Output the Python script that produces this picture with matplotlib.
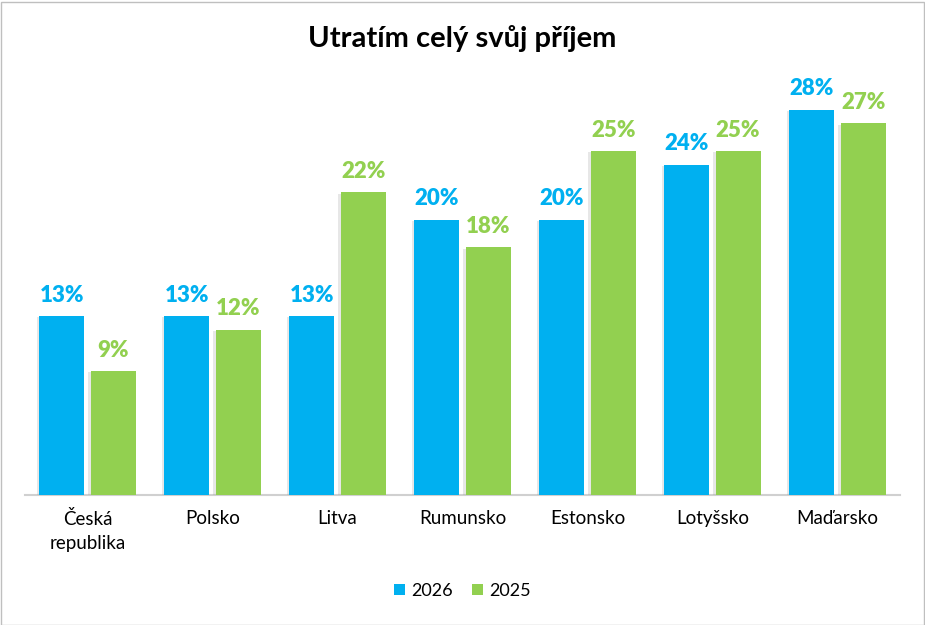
import matplotlib.pyplot as plt
import matplotlib.patheffects as pe
from matplotlib.patches import Rectangle, Patch
import numpy as np

plt.rcParams['font.family'] = ['Lato', 'DejaVu Sans']

countries = ['Česká\nrepublika', 'Polsko', 'Litva', 'Rumunsko', 'Estonsko', 'Lotyšsko', 'Maďarsko']
vals_2026 = [13, 13, 13, 20, 20, 24, 28]
vals_2025 = [9, 12, 22, 18, 25, 25, 27]
series_names = ['2026', '2025']
colors = ['#00B0F0', '#92D050']

fig = plt.figure(figsize=(9.25, 6.25), dpi=100)
ax = fig.add_axes([25 / 925, 130 / 625, 875 / 925, 413 / 625])

x = np.arange(len(countries))
w = 0.36
shadow = [pe.SimplePatchShadow(offset=(-2, -1), shadow_rgbFace='#a0a0a0', alpha=0.25), pe.Normal()]

for i, (vals, name, col) in enumerate(zip([vals_2026, vals_2025], series_names, colors)):
    pos = x + (i - 0.5) * 0.41
    bars = ax.bar(pos, vals, width=w, color=col, zorder=3)
    for b in bars:
        b.set_path_effects(shadow)
    for p, v in zip(pos, vals):
        ax.text(p, v + 0.75, f'{v}%', ha='center', va='bottom', color=col,
                fontsize=16, fontweight='heavy', zorder=4)

ax.set_xlim(-0.5, len(countries) - 0.5)
ax.set_ylim(0, 30)
ax.set_yticks([])
ax.set_xticks(x)
ax.set_xticklabels(countries, fontsize=13.5, linespacing=1.45)
ax.tick_params(axis='x', length=0, pad=11)
for s in ['top', 'right', 'left']:
    ax.spines[s].set_visible(False)
ax.spines['bottom'].set_color('#d0d0d0')
ax.spines['bottom'].set_linewidth(1.5)

fig.text(0.5, 1 - 38 / 625, 'Utratím celý svůj příjem', ha='center', va='center',
         fontsize=21, fontweight='bold')

handles = [Patch(facecolor=c, label=n) for c, n in zip(colors, series_names)]
fig.legend(handles=handles, loc='center', bbox_to_anchor=(0.5, 1 - 591 / 625), ncol=2, frameon=False,
           fontsize=13, handlelength=0.6, handleheight=0.6, handletextpad=0.35, columnspacing=1.1)

fig.patches.append(Rectangle((0.5 / 925, 0.5 / 625), 923 / 925, 623 / 625, transform=fig.transFigure,
                             fill=False, edgecolor='#bfbfbf', linewidth=1))

fig.savefig('out.png', dpi=100, facecolor='white')
